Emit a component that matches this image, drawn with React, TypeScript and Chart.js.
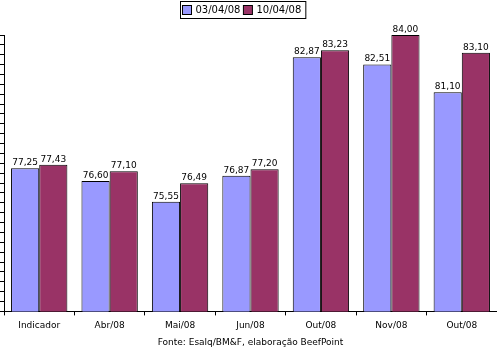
import React, { useEffect, useRef } from "react";
import { Chart, registerables } from "chart.js";

Chart.register(...registerables);

const categories = ["Indicador", "Abr/08", "Mai/08", "Jun/08", "Out/08", "Nov/08", "Out/08"];
const seriesNames = ["03/04/08", "10/04/08"];
const series1 = [77.25, 76.6, 75.55, 76.87, 82.87, 82.51, 81.1];
const series2 = [77.43, 77.1, 76.49, 77.2, 83.23, 84.0, 83.1];
const colors = ["#9999FF", "#993366"];
const sourceText = "Fonte: Esalq/BM&F, elaboração BeefPoint";
const yMin = 70;
const yMax = 84;
const yStep = 0.5;

const FONT = "'DejaVu Sans', Verdana, sans-serif";

const fmt = (v: number) => v.toFixed(2).replace(".", ",");

const valueLabels = {
  id: "valueLabels",
  afterDatasetsDraw(chart: any) {
    const ctx = chart.ctx;
    ctx.save();
    ctx.font = `9px ${FONT}`;
    ctx.fillStyle = "#000";
    ctx.textAlign = "center";
    ctx.textBaseline = "bottom";
    chart.data.datasets.forEach((ds: any, i: number) => {
      const meta = chart.getDatasetMeta(i);
      meta.data.forEach((el: any, j: number) => {
        ctx.fillText(fmt(ds.data[j]), el.x, el.y - 1);
      });
    });
    ctx.restore();
  },
};

const boxedLegend = {
  id: "boxedLegend",
  afterDraw(chart: any) {
    const ctx = chart.ctx;
    ctx.save();
    ctx.font = `10px ${FONT}`;
    ctx.textBaseline = "middle";
    ctx.textAlign = "left";
    const left = 180;
    const top = 1;
    const h = 17;
    const sq = 9;
    let x = left + 2.5;
    const cy = top + h / 2 + 0.5;
    const items: { sx: number; tx: number }[] = [];
    chart.data.datasets.forEach((ds: any) => {
      const sx = x;
      const tx = sx + sq + 4;
      const w = ctx.measureText(ds.label).width;
      items.push({ sx, tx });
      x = tx + w + 3;
    });
    const right = x + 1;
    ctx.fillStyle = "#fff";
    ctx.fillRect(left + 0.5, top + 0.5, right - left, h);
    ctx.strokeStyle = "#000";
    ctx.lineWidth = 1;
    ctx.strokeRect(left + 0.5, top + 0.5, right - left, h);
    chart.data.datasets.forEach((ds: any, i: number) => {
      const { sx, tx } = items[i];
      ctx.fillStyle = ds.backgroundColor;
      ctx.fillRect(sx, cy - sq / 2, sq, sq);
      ctx.strokeStyle = "#000";
      ctx.strokeRect(sx, cy - sq / 2, sq, sq);
      ctx.fillStyle = "#000";
      ctx.fillText(ds.label, tx, cy);
    });
    ctx.restore();
  },
};

const whiteBg = {
  id: "whiteBg",
  beforeDraw(chart: any) {
    const ctx = chart.ctx;
    ctx.save();
    ctx.fillStyle = "#fff";
    ctx.fillRect(0, 0, chart.width, chart.height);
    ctx.restore();
  },
};

export default function App() {
  const ref = useRef<HTMLCanvasElement | null>(null);
  useEffect(() => {
    if (!ref.current) return;
    const chart = new Chart(ref.current, {
      type: "bar",
      data: {
        labels: categories,
        datasets: [
          {
            label: seriesNames[0],
            data: series1,
            backgroundColor: colors[0],
            borderColor: "#000",
            borderWidth: 1,
            categoryPercentage: 0.8,
            barPercentage: 1.0,
          },
          {
            label: seriesNames[1],
            data: series2,
            backgroundColor: colors[1],
            borderColor: "#000",
            borderWidth: 1,
            categoryPercentage: 0.8,
            barPercentage: 1.0,
          },
        ],
      },
      options: {
        responsive: false,
        animation: false,
        layout: { padding: { top: 35, left: 0, right: 0, bottom: 0 } },
        plugins: {
          legend: { display: false },
          tooltip: { enabled: false },
        },
        scales: {
          x: {
            offset: true,
            grid: {
              offset: true,
              drawOnChartArea: false,
              drawTicks: true,
              tickLength: 4,
              color: "#000",
            },
            border: { color: "#000", width: 1 },
            ticks: {
              color: "#000",
              font: { family: FONT, size: 9 },
              padding: 5,
              maxRotation: 0,
              autoSkip: false,
            },
            title: {
              display: true,
              text: sourceText,
              color: "#000",
              font: { family: FONT, size: 9 },
              padding: { top: 1, bottom: 0 },
            },
          },
          y: {
            min: yMin,
            max: yMax,
            grid: {
              drawOnChartArea: false,
              drawTicks: true,
              tickLength: 4,
              color: "#000",
            },
            border: { color: "#000", width: 1 },
            ticks: { display: false, stepSize: yStep },
          },
        },
      },
      plugins: [whiteBg, valueLabels, boxedLegend],
    });
    return () => chart.destroy();
  }, []);
  return (
    <div style={{ position: "absolute", left: 0, top: 0, width: 497, height: 348, background: "#fff" }}>
      <canvas ref={ref} width={497} height={348} style={{ display: "block" }} />
    </div>
  );
}
